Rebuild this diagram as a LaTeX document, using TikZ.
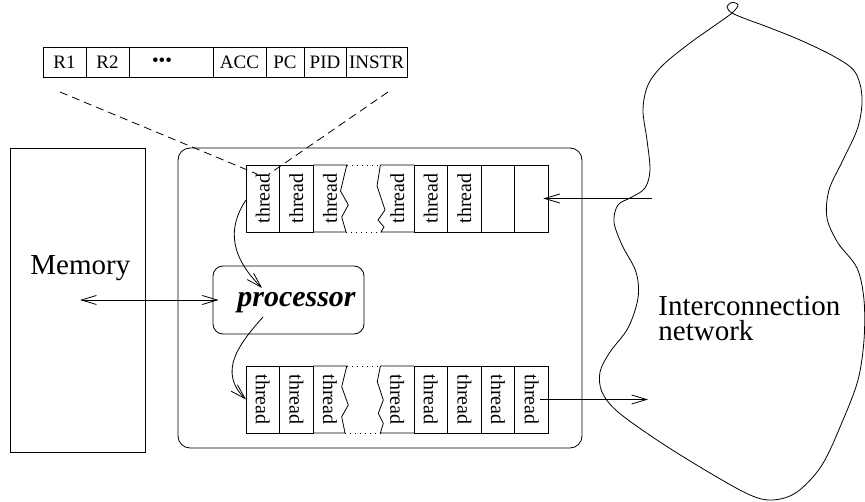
\documentclass[tikz,border=0pt]{standalone}
\usepackage{fontspec}
\setmainfont{Liberation Serif}
\usetikzlibrary{arrows.meta,calc}
\begin{document}
\begin{tikzpicture}[x=1pt,y=-1pt,line width=0.8pt,
  regcell/.style={draw,inner sep=0pt,outer sep=0pt,minimum height=30pt,font=\fontsize{19}{22}\selectfont},
  cellbox/.style={draw,inner sep=0pt,outer sep=0pt,minimum width=33.6pt,minimum height=67pt},
  ghostcell/.style={inner sep=0pt,outer sep=0pt,minimum width=33.6pt,minimum height=67pt},
  thr/.style={font=\fontsize{20}{24}\selectfont,inner sep=0pt},
  bigtext/.style={font=\fontsize{29}{34}\selectfont,inner sep=0pt},
  arr/.style={-{Straight Barb[length=15pt,width=9pt]}},
  dualarr/.style={{Straight Barb[length=15pt,width=9pt]}-{Straight Barb[length=15pt,width=9pt]}},
  brk/.style={dash pattern=on 1pt off 4pt},
  dsh/.style={dash pattern=on 8pt off 5pt}]
\useasboundingbox (0,0) rectangle (865,502);

% register strip
\node[regcell,minimum width=43pt] (r1) at (64.5,62) {R1};
\node[regcell,minimum width=43pt] (r2) at (107.5,62) {R2};
\node[regcell,minimum width=84pt] (r3) at (171,62) {\hspace*{-18pt}•••};
\node[regcell,minimum width=53pt] (r4) at (239.5,62) {ACC};
\node[regcell,minimum width=38pt] (r5) at (285,62) {PC};
\node[regcell,minimum width=42pt] (r6) at (325,62) {PID};
\node[regcell,minimum width=61pt] (r7) at (376.5,62) {INSTR};

% memory
\node[draw,inner sep=0pt,minimum width=135pt,minimum height=304pt] (mem) at (77.5,300) {};
\node[bigtext,anchor=base west] (memtxt) at (30,275) {Memory};

% processor container
\node[draw,rounded corners=12pt,inner sep=0pt,minimum width=404pt,minimum height=300pt] (cpu) at (380,298) {};

% processor
\node[draw,rounded corners=10pt,inner sep=0pt,minimum width=151pt,minimum height=68pt] (proc) at (288.5,300) {};
\node[anchor=base,inner sep=0pt,font=\fontsize{30}{36}\selectfont\bfseries\itshape] (proctxt) at (296.5,307) {processor};

% top thread row
\foreach \i in {0,1,5,6,7,8} {\node[cellbox] (t\i) at (262.8+33.6*\i,198.5) {};}
\foreach \i in {2,4} {\node[ghostcell] (t\i) at (262.8+33.6*\i,198.5) {};}
\foreach \i in {0,1,2,4,5,6} {\node[thr,rotate=90] (tl\i) at (t\i) {thread};}
\draw (t2.north west) -- (346.8,165) -- (340.5,191) -- (348.3,205) -- (341.7,217) -- (346,232) -- (t2.south west);
\draw (t4.north east) -- (380.4,165) -- (377,186) -- (385,210) -- (378,220) -- (384,227) -- (381,232) -- (t4.south east);
\draw[brk] (346.8,165) -- (380.4,165);
\draw[brk] (346,232) -- (381,232);

% bottom thread row
\foreach \i in {0,1,5,6,7,8} {\node[cellbox] (b\i) at (262.8+33.6*\i,399.5) {};}
\foreach \i in {2,4} {\node[ghostcell] (b\i) at (262.8+33.6*\i,399.5) {};}
\foreach \i in {0,1,2,4,5,6,7,8} {\node[thr,rotate=-90] (bl\i) at (b\i) {thread};}
\draw (b2.north west) -- (346.8,366) -- (341.7,386.7) -- (348.3,405) -- (341.7,416.7) -- (345,433) -- (b2.south west);
\draw (b4.north east) -- (380.4,366) -- (377.3,381.7) -- (383.3,400) -- (378.3,413.3) -- (383.3,423.3) -- (380.4,433) -- (b4.south east);
\draw[brk] (346.8,366) -- (380.4,366);
\draw[brk] (345,433) -- (380.4,433);

% dashed zoom lines
\coordinate (dl1) at (60,92);
\coordinate (dl2) at (388,92);
\coordinate (dl1e) at (257,174);
\coordinate (dl2e) at (269,174);
\draw[dsh] (dl1) -- (dl1e);
\draw[dsh] (dl2) -- (dl2e);

% interconnection network cloud
\draw plot[smooth cycle,tension=0.55] coordinates {
 (732,13) (714,26) (690,43) (663,65) (648,85) (643,110) (647,140) (650,170)
 (645,188) (632,197) (618,205) (614,222) (622,245) (636,272) (638,298)
 (628,328) (610,352) (600,372) (602,392) (618,412) (660,442) (710,473)
 (750,495) (773,500) (797,492) (822,465) (843,420) (858,380) (864,340)
 (864,300) (857,268) (838,243) (827,218) (829,190) (843,160) (858,127)
 (862,97) (855,72) (835,57) (800,40) (765,26) (746,19) (732,13)
 (727,7) (732,2.5) (738,5)};
\node[bigtext,anchor=base west] (nettxt1) at (658,316) {Interconnection};
\node[bigtext,anchor=base west] (nettxt2) at (658,341) {network};

% connectors
\coordinate (netin) at (652,198.5);
\coordinate (netout) at (648,399.5);
\draw[arr] (netin) -- ([xshift=-5pt]t8.east);
\draw[arr] ([xshift=-8pt]b8.east) -- (netout);
\draw[dualarr] ([xshift=2.5pt]mem.center) -- ([xshift=6pt]proc.west);
\draw[arr] ([yshift=-1.5pt]t0.west) .. controls (226,230) and (232,258) .. ($(proc.center)+(-26.5,-12)$);
\draw[arr] ($(proc.center)+(-25.5,17)$) .. controls (238,345) and (218,372) .. (b0.west);
\end{tikzpicture}
\end{document}
